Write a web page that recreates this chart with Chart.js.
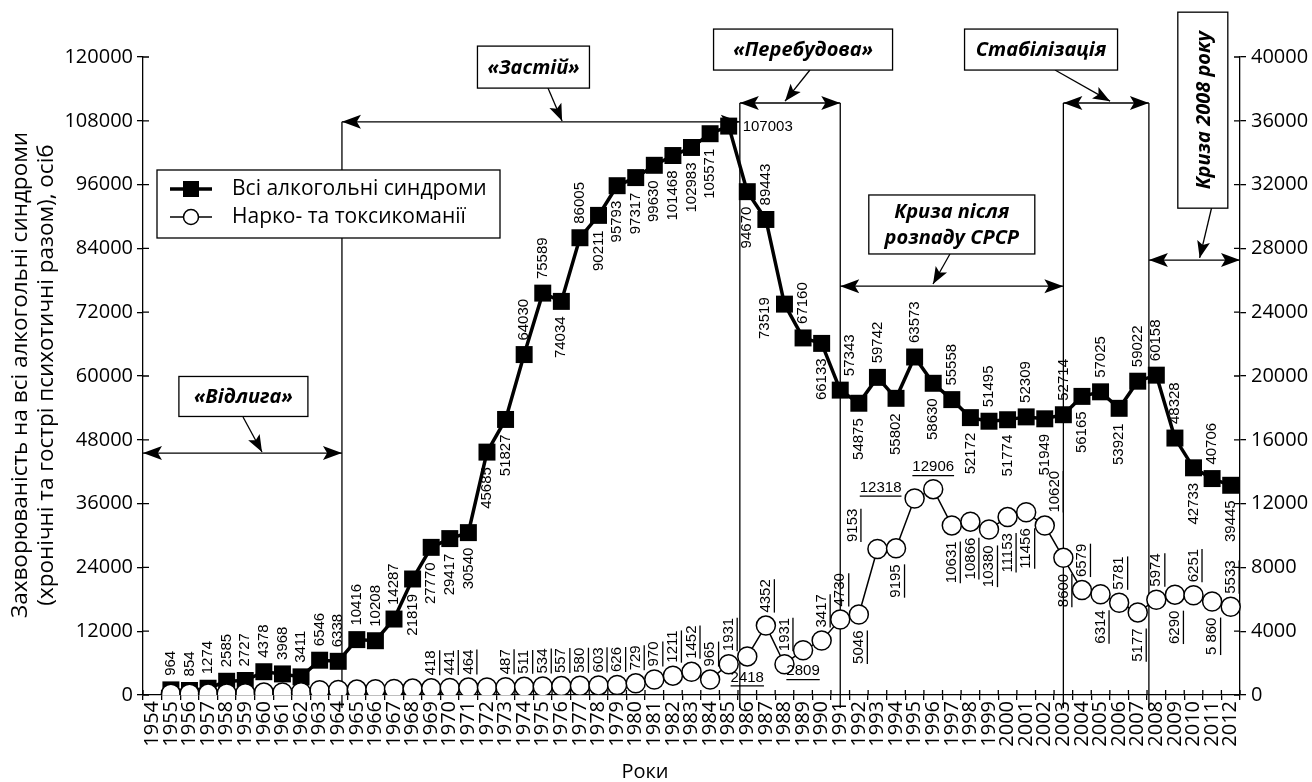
<!DOCTYPE html>
<html>
<head>
<meta charset="utf-8">
<title>Захворюваність на алкогольні синдроми та нарко- і токсикоманії</title>
<script src="https://cdn.jsdelivr.net/npm/chart.js@4.4.1/dist/chart.umd.min.js"></script>
<style>
  html, body { margin: 0; padding: 0; background: #fff; }
  canvas { display: block; }
</style>
</head>
<body>
<canvas id="diseaseChart" width="1312" height="782"></canvas>
<script>
// Years on the x axis
const years = [
  '1954', '1955', '1956', '1957', '1958', '1959', '1960', '1961', '1962', '1963',
  '1964', '1965', '1966', '1967', '1968', '1969', '1970', '1971', '1972', '1973',
  '1974', '1975', '1976', '1977', '1978', '1979', '1980', '1981', '1982', '1983',
  '1984', '1985', '1986', '1987', '1988', '1989', '1990', '1991', '1992', '1993',
  '1994', '1995', '1996', '1997', '1998', '1999', '2000', '2001', '2002', '2003',
  '2004', '2005', '2006', '2007', '2008', '2009', '2010', '2011', '2012'
];

// All alcohol syndromes, persons (left axis)
const alcoholCases = [
  null, 964, 854, 1274, 2585, 2727, 4378, 3968, 3411, 6546,
  6338, 10416, 10208, 14287, 21819, 27770, 29417, 30540, 45685, 51827,
  64030, 75589, 74034, 86005, 90211, 95793, 97317, 99630, 101468, 102983,
  105571, 107003, 94670, 89443, 73519, 67160, 66133, 57343, 54875, 59742,
  55802, 63573, 58630, 55558, 52172, 51495, 51774, 52309, 51949, 52714,
  56165, 57025, 53921, 59022, 60158, 48328, 42733, 40706, 39445
];

// Drug and toxic addictions, persons (right axis)
const drugCases = [
  null, 80, 80, 90, 100, 110, 150, 160, 170, 300,
  320, 340, 360, 380, 400, 418, 441, 464, 470, 487,
  511, 534, 557, 580, 603, 626, 729, 970, 1211, 1452,
  965, 1931, 2418, 4352, 1931, 2809, 3417, 4730, 5046, 9153,
  9195, 12318, 12906, 10631, 10866, 10380, 11153, 11456, 10620, 8600,
  6579, 6314, 5781, 5177, 5974, 6290, 6251, 5860, 5533
];

// the source prints one value with a space in it
const drugLabelText = { '2011': '5 860' };

// where each value label sits: a = above, ar = above-right, b = below, l / al = left, r = right, h* = horizontal
const alcoholLabelPos = [
  '', 'a', 'a', 'a', 'a', 'a', 'a', 'a', 'a', 'a',
  'a', 'a', 'a', 'a', 'b', 'b', 'b', 'b', 'b', 'b',
  'a', 'a', 'b', 'a', 'b', 'b', 'b', 'b', 'b', 'b',
  'b', 'r', 'b', 'a', 'l', 'a', 'b', 'ar', 'b', 'a',
  'b', 'a', 'b', 'a', 'b', 'a', 'b', 'a', 'b', 'a',
  'b', 'a', 'b', 'a', 'a', 'a', 'b', 'a', 'b'
];
const drugLabelPos = [
  '', '', '', '', '', '', '', '', '', '',
  '', '', '', '', '', 'a', 'a', 'a', '', 'a',
  'a', 'a', 'a', 'a', 'a', 'a', 'a', 'a', 'a', 'a',
  'a', 'a', 'hb', 'a', 'a', 'hb', 'a', 'a', 'b', 'al',
  'b', 'hl', 'ha', 'b', 'b', 'b', 'b', 'b', 'ar', 'b',
  'a', 'b', 'a', 'b', 'a', 'b', 'a', 'b', 'a'
];

// Period borders (year) and how high they reach (left axis units)
const periodLines = [
  { year: 1964.2, top: 107800 },
  { year: 1985.6, top: 111350 },
  { year: 1991, top: 111350 },
  { year: 2003, top: 111350 },
  { year: 2007.6, top: 111350 }
];

// Double arrows spanning each period
const periodSpans = [
  { from: 'left', to: 1964.2, value: 45500 },
  { from: 1964.2, to: 1985.6, value: 107800 },
  { from: 1985.6, to: 1991, value: 111350 },
  { from: 1991, to: 2003, value: 76900 },
  { from: 2003, to: 2007.6, value: 111350 },
  { from: 2007.6, to: 'right', value: 81800 }
];

// Period captions: centre in (year, left axis units), size in px
const periodBoxes = [
  { lines: ['«Відлига»'], year: 1958.9, value: 56150, w: 129, h: 40 },
  { lines: ['«Застій»'], year: 1974.5, value: 118100, w: 112, h: 42 },
  { lines: ['«Перебудова»'], year: 1989.0, value: 121400, w: 179, h: 41 },
  { lines: ['Криза після', 'розпаду СРСР'], year: 1997.0, value: 88500, w: 166, h: 59 },
  { lines: ['Стабілізація'], year: 2001.8, value: 121400, w: 153, h: 41 },
  { lines: ['Криза 2008 року'], year: 2010.5, value: 110000, w: 50, h: 196, vertical: true }
];

// Arrows from caption to its span: [year, value] -> [year, value]
const pointerArrows = [
  [1958.88, 52300, 1959.9, 45700],
  [1975.28, 114170, 1976.04, 107960],
  [1989.37, 117560, 1988.03, 111700],
  [2002.55, 117560, 2005.51, 111700],
  [1996.9, 82950, 1995.99, 77300],
  [2010.97, 91600, 2010.33, 82200]
];

const FONT = '"Open Sans", "DejaVu Sans", sans-serif';
const LABEL_FONT = '15px "Liberation Sans", Arial, sans-serif';

function arrowHead(ctx, x1, y1, x2, y2, len, half) {
    const a = Math.atan2(y2 - y1, x2 - x1);
    const c = Math.cos(a), s = Math.sin(a);
    ctx.beginPath();
    ctx.moveTo(x2, y2);
    ctx.lineTo(x2 - len * c + half * s, y2 - len * s - half * c);
    ctx.lineTo(x2 - len * 0.78 * c, y2 - len * 0.78 * s);
    ctx.lineTo(x2 - len * c - half * s, y2 - len * s + half * c);
    ctx.closePath();
    ctx.fill();
}

function drawPointLabel(ctx, text, x, y, code, underline, offA, offB) {
    ctx.save();
    ctx.font = LABEL_FONT;
    ctx.fillStyle = '#000';
    ctx.strokeStyle = '#000';
    ctx.lineWidth = 1.3;
    ctx.textBaseline = 'middle';
    const w = ctx.measureText(text).width;
    let tx, ty, align;
    if (code === 'r' || code[0] === 'h') {
        if (code === 'r') { align = 'left'; tx = x + 14; ty = y + 1; }
        else if (code === 'ha') { align = 'center'; tx = x; ty = y - 22; }
        else if (code === 'hb') { align = 'center'; tx = x; ty = y + 21; }
        else { align = 'center'; tx = x - 34; ty = y - 11; }
    } else {
        ctx.translate(x, y);
        ctx.rotate(-Math.PI / 2);
        if (code === 'a') { align = 'left'; tx = offA; ty = 0; }
        else if (code === 'ar') { align = 'left'; tx = offA; ty = 10; }
        else if (code === 'b') { align = 'right'; tx = -offB; ty = 0; }
        else if (code === 'l') { align = 'center'; tx = -14; ty = -20; }
        else { align = 'left'; tx = 7; ty = -25; }
    }
    ctx.textAlign = align;
    ctx.fillText(text, tx, ty);
    if (underline) {
        const x0 = align === 'left' ? tx : (align === 'right' ? tx - w : tx - w / 2);
        ctx.beginPath();
        ctx.moveTo(x0, ty + 8.5);
        ctx.lineTo(x0 + w, ty + 8.5);
        ctx.stroke();
    }
    ctx.restore();
}

// Period lines, spans, captions and pointers
const periodsPlugin = {
    id: 'periods',
    beforeDatasetsDraw(chart) {
        const { ctx, chartArea, scales } = chart;
        const xAt = yr => yr === 'left' ? chartArea.left : (yr === 'right' ? chartArea.right : scales.x.getPixelForValue(yr - 1954));
        const yAt = v => scales.y.getPixelForValue(v);
        ctx.save();
        ctx.strokeStyle = '#000';
        ctx.fillStyle = '#000';
        ctx.lineWidth = 1.3;

        periodLines.forEach(p => {
            const x = xAt(p.year);
            ctx.beginPath();
            ctx.moveTo(x, yAt(p.top));
            ctx.lineTo(x, chartArea.bottom + 13);
            ctx.stroke();
        });

        periodSpans.forEach(s => {
            const x1 = xAt(s.from), x2 = xAt(s.to), y = yAt(s.value);
            ctx.beginPath();
            ctx.moveTo(x1, y);
            ctx.lineTo(x2, y);
            ctx.stroke();
            arrowHead(ctx, x2, y, x1, y, 19, 7);
            arrowHead(ctx, x1, y, x2, y, 19, 7);
        });

        pointerArrows.forEach(([ya, va, yb, vb]) => {
            const x1 = xAt(ya), y1 = yAt(va), x2 = xAt(yb), y2 = yAt(vb);
            ctx.beginPath();
            ctx.moveTo(x1, y1);
            ctx.lineTo(x2, y2);
            ctx.stroke();
            arrowHead(ctx, x1, y1, x2, y2, 17, 6.5);
        });

        periodBoxes.forEach(b => {
            const cx = xAt(b.year), cy = yAt(b.value);
            ctx.fillStyle = '#fff';
            ctx.fillRect(cx - b.w / 2, cy - b.h / 2, b.w, b.h);
            ctx.strokeRect(cx - b.w / 2, cy - b.h / 2, b.w, b.h);
            ctx.fillStyle = '#000';
            ctx.font = 'italic bold 20px ' + FONT;
            ctx.textAlign = 'center';
            ctx.textBaseline = 'middle';
            if (b.vertical) {
                ctx.save();
                ctx.translate(cx, cy);
                ctx.rotate(-Math.PI / 2);
                ctx.fillText(b.lines[0], 0, 1);
                ctx.restore();
            } else {
                const lh = 26;
                b.lines.forEach((t, i) => {
                    ctx.fillText(t, cx, cy + (i - (b.lines.length - 1) / 2) * lh + 1);
                });
            }
        });
        ctx.restore();
    }
};

// Value labels next to every point
const labelsPlugin = {
    id: 'pointLabels',
    afterDatasetsDraw(chart) {
        const ctx = chart.ctx;
        const specs = [
            { index: 0, pos: alcoholLabelPos, underline: false, offA: 14, offB: 15, texts: {} },
            { index: 1, pos: drugLabelPos, underline: true, offA: 13, offB: 16, texts: drugLabelText }
        ];
        specs.forEach(spec => {
            const meta = chart.getDatasetMeta(spec.index);
            const values = chart.data.datasets[spec.index].data;
            meta.data.forEach((pt, i) => {
                const code = spec.pos[i];
                if (!code || values[i] == null) return;
                const text = spec.texts[years[i]] || String(values[i]);
                drawPointLabel(ctx, text, pt.x, pt.y, code, spec.underline, spec.offA, spec.offB);
            });
        });
    }
};

// Inner halves of the tick marks, titles and the legend
const framePlugin = {
    id: 'frame',
    afterDraw(chart) {
        const { ctx, chartArea, scales } = chart;
        ctx.save();
        ctx.strokeStyle = '#000';
        ctx.lineWidth = 1.3;
        ctx.beginPath();
        for (let i = 0; i <= years.length; i++) {
            const x = scales.x.getPixelForValue(i - 0.5);
            ctx.moveTo(x, chartArea.bottom - 5);
            ctx.lineTo(x, chartArea.bottom);
        }
        scales.y.ticks.forEach(t => {
            const y = scales.y.getPixelForValue(t.value);
            ctx.moveTo(chartArea.left, y);
            ctx.lineTo(chartArea.left + 6, y);
        });
        scales.y2.ticks.forEach(t => {
            const y = scales.y2.getPixelForValue(t.value);
            ctx.moveTo(chartArea.right - 6, y);
            ctx.lineTo(chartArea.right, y);
        });
        ctx.stroke();

        // axis titles
        ctx.fillStyle = '#000';
        ctx.textAlign = 'center';
        ctx.textBaseline = 'middle';
        ctx.font = '20px ' + FONT;
        ctx.fillText('Роки', 645, 772);
        ctx.save();
        ctx.font = '22.5px ' + FONT;
        ctx.translate(21, 375);
        ctx.rotate(-Math.PI / 2);
        ctx.fillText('Захворюваність на всі алкогольні синдроми', 0, 0);
        ctx.fillText('(хронічні та гострі психотичні разом), осіб', 0, 26);
        ctx.restore();

        // legend
        ctx.fillStyle = '#fff';
        ctx.fillRect(157, 170, 343, 68);
        ctx.strokeRect(157, 170, 343, 68);
        ctx.fillStyle = '#000';
        ctx.lineWidth = 3.5;
        ctx.beginPath();
        ctx.moveTo(170, 189);
        ctx.lineTo(212, 189);
        ctx.stroke();
        ctx.fillRect(183, 181, 16, 16);
        ctx.lineWidth = 1.5;
        ctx.beginPath();
        ctx.moveTo(170, 217);
        ctx.lineTo(212, 217);
        ctx.stroke();
        ctx.beginPath();
        ctx.arc(191, 217, 7.5, 0, Math.PI * 2);
        ctx.fillStyle = '#fff';
        ctx.fill();
        ctx.stroke();
        ctx.fillStyle = '#000';
        ctx.textAlign = 'left';
        ctx.font = '21px ' + FONT;
        ctx.fillText('Всі алкогольні синдроми', 232, 189);
        ctx.fillText('Нарко- та токсикоманії', 232, 217);
        ctx.restore();
    }
};

const axisGrid = { drawOnChartArea: false, drawTicks: true, tickLength: 6, color: '#000', lineWidth: 1.3 };

const ctx = document.getElementById('diseaseChart').getContext('2d');
const diseaseChart = new Chart(ctx, {
    type: 'line',
    data: {
        labels: years,
        datasets: [
            {
                label: 'Всі алкогольні синдроми',
                data: alcoholCases,
                yAxisID: 'y',
                order: 1,
                borderColor: '#000',
                borderWidth: 3.5,
                tension: 0,
                pointStyle: 'rect',
                pointRadius: 12,
                pointBackgroundColor: '#000',
                pointBorderColor: '#000',
                pointBorderWidth: 0
            },
            {
                label: 'Нарко- та токсикоманії',
                data: drugCases,
                yAxisID: 'y2',
                order: 0,
                borderColor: '#000',
                borderWidth: 1.5,
                tension: 0,
                pointStyle: 'circle',
                pointRadius: 9.5,
                pointBackgroundColor: '#fff',
                pointBorderColor: '#000',
                pointBorderWidth: 1.5
            }
        ]
    },
    options: {
        responsive: false,
        animation: false,
        devicePixelRatio: 1,
        events: [],
        layout: { padding: { top: 57, left: 0, right: 0, bottom: 0 } },
        plugins: {
            legend: { display: false },
            tooltip: { enabled: false }
        },
        scales: {
            x: {
                type: 'category',
                offset: true,
                grid: { drawOnChartArea: false, drawTicks: true, tickLength: 5, offset: true, color: '#000', lineWidth: 1.3 },
                border: { display: true, color: '#000', width: 1.3 },
                ticks: {
                    autoSkip: false,
                    minRotation: 90,
                    maxRotation: 90,
                    padding: 1,
                    color: '#000',
                    font: { family: FONT, size: 20 }
                },
                afterFit: scale => { scale.height = 87; }
            },
            y: {
                position: 'left',
                min: 0,
                max: 120000,
                grid: axisGrid,
                border: { display: true, color: '#000', width: 1.3 },
                ticks: {
                    stepSize: 12000,
                    padding: 4,
                    color: '#000',
                    font: { family: FONT, size: 20 },
                    callback: value => String(value)
                },
                afterFit: scale => { scale.width = 143; }
            },
            y2: {
                position: 'right',
                min: 0,
                max: 40000,
                grid: axisGrid,
                border: { display: true, color: '#000', width: 1.3 },
                ticks: {
                    stepSize: 4000,
                    padding: 5,
                    color: '#000',
                    font: { family: FONT, size: 20 },
                    callback: value => String(value)
                },
                afterFit: scale => { scale.width = 72; }
            }
        }
    },
    plugins: [periodsPlugin, labelsPlugin, framePlugin]
});
</script>
</body>
</html>
